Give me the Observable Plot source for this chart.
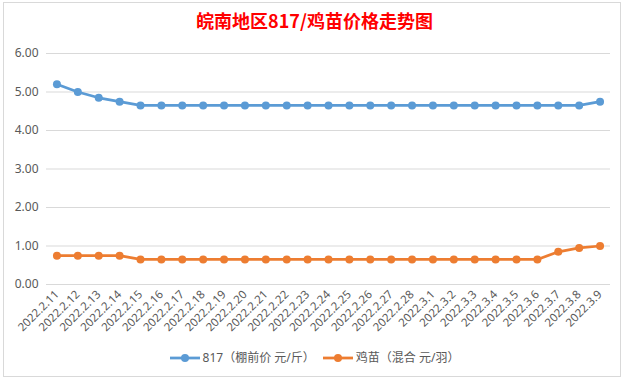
<!DOCTYPE html>
<html>
<head>
<meta charset="utf-8">
<script src="https://cdn.jsdelivr.net/npm/d3@7"></script>
<script src="https://cdn.jsdelivr.net/npm/@observablehq/plot@0.6"></script>
<style>
  html, body { margin: 0; padding: 0; background: #fff; }
  body { width: 629px; height: 381px; position: relative; overflow: hidden;
    font-family: "Noto Sans", "Noto Sans CJK SC", sans-serif; }
  #frame { position: absolute; left: 3px; top: 2px; width: 618px; height: 375px;
    border: 1px solid #d9d9d9; box-sizing: border-box; }
  #title { position: absolute; left: 0; top: 6px; width: 629px; text-align: center;
    font-family: "Noto Sans CJK SC", sans-serif; font-weight: bold; font-size: 18px;
    color: #ff0000; line-height: 28px; }
  #chart { position: absolute; left: 0; top: 38px; }
  #legend { position: absolute; left: 0; top: 348px; width: 629px; display: flex;
    justify-content: center; align-items: center; gap: 8px; font-size: 12px; color: #595959;
    font-family: "Noto Sans", "Noto Sans CJK SC", sans-serif; line-height: 20px; }
  .item { display: flex; align-items: center; gap: 3px; }
</style>
</head>
<body>
<div id="frame"></div>
<div id="title">皖南地区817/鸡苗价格走势图</div>
<div id="chart"></div>
<div id="legend"></div>
<script>
const dates = ["2022.2.11","2022.2.12","2022.2.13","2022.2.14","2022.2.15","2022.2.16","2022.2.17","2022.2.18","2022.2.19","2022.2.20","2022.2.21","2022.2.22","2022.2.23","2022.2.24","2022.2.25","2022.2.26","2022.2.27","2022.2.28","2022.3.1","2022.3.2","2022.3.3","2022.3.4","2022.3.5","2022.3.6","2022.3.7","2022.3.8","2022.3.9"];
const price817 = [5.2,5.0,4.85,4.75,4.65,4.65,4.65,4.65,4.65,4.65,4.65,4.65,4.65,4.65,4.65,4.65,4.65,4.65,4.65,4.65,4.65,4.65,4.65,4.65,4.65,4.65,4.75];
const chick = [0.75,0.75,0.75,0.75,0.65,0.65,0.65,0.65,0.65,0.65,0.65,0.65,0.65,0.65,0.65,0.65,0.65,0.65,0.65,0.65,0.65,0.65,0.65,0.65,0.85,0.95,1.0];
const seriesNames = ["817（棚前价 元/斤）", "鸡苗（混合 元/羽）"];
const seriesColors = ["#5b9bd5", "#ed7d31"];
const yTicks = [0,1,2,3,4,5,6];

const data = [];
dates.forEach((d, i) => {
  data.push({date: d, value: price817[i], series: seriesNames[0]});
  data.push({date: d, value: chick[i], series: seriesNames[1]});
});

const chart = Plot.plot({
  width: 629,
  height: 305,
  marginLeft: 46,
  marginRight: 19,
  marginTop: 15,
  marginBottom: 59,
  style: {fontFamily: "'Noto Sans', sans-serif", fontSize: "11px", color: "#595959", background: "transparent"},
  x: {type: "point", domain: dates, padding: 0.5, round: false, label: null},
  y: {domain: [0, 6], label: null},
  color: {domain: seriesNames, range: seriesColors},
  marks: [
    Plot.gridY(yTicks, {stroke: "#d9d9d9", strokeOpacity: 1, strokeWidth: 1}),
    Plot.axisY(yTicks, {tickSize: 0, tickPadding: 8, tickFormat: d3.format(".2f"), fill: "#595959", fontSize: 12, label: null}),
    Plot.axisX({tickSize: 0, tickPadding: 8, tickRotate: -45, fill: "#595959", fontSize: 11.5, label: null}),
    Plot.line(data, {x: "date", y: "value", z: "series", stroke: "series", strokeWidth: 2.75}),
    Plot.dot(data, {x: "date", y: "value", fill: "series", r: 4})
  ]
});
document.getElementById("chart").appendChild(chart);

const legend = document.getElementById("legend");
seriesNames.forEach((name, i) => {
  const item = document.createElement("div");
  item.className = "item";
  item.innerHTML = `<svg width="30" height="10"><line x1="0" x2="30" y1="5" y2="5" stroke="${seriesColors[i]}" stroke-width="2.75"/><circle cx="15" cy="5" r="4" fill="${seriesColors[i]}"/></svg><span>${name}</span>`;
  legend.appendChild(item);
});
</script>
</body>
</html>
